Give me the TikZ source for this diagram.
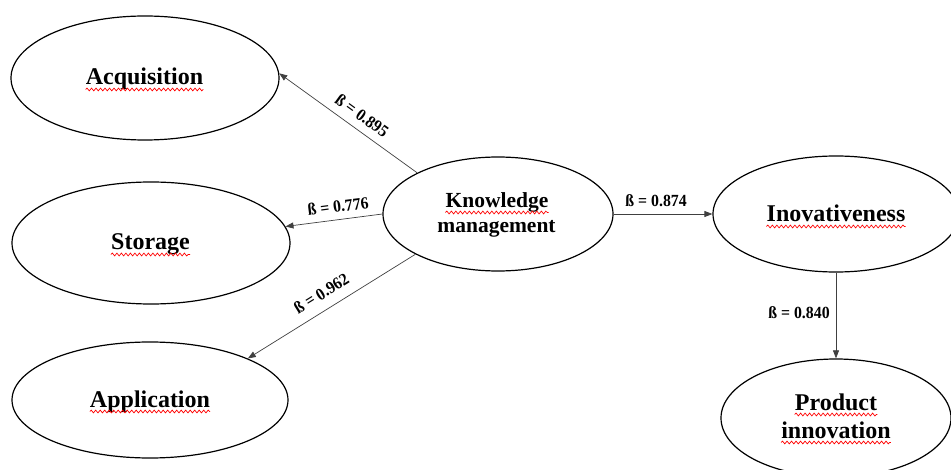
\documentclass[tikz,border=0pt]{standalone}
\usepackage{fontspec}
\setmainfont{Liberation Serif}
\newfontfamily\betafont[FakeStretch=0.93]{Liberation Serif}
\usetikzlibrary{shapes.geometric,arrows.meta,calc,decorations.pathmorphing}
\begin{document}
\begin{tikzpicture}[x=1pt,y=-1pt,
  oval/.style={draw, ellipse, line width=1.2pt, inner sep=0},
  word/.style={inner sep=0, font=\fontsize{24}{28}\selectfont\bfseries, anchor=base},
  kmword/.style={word, font=\fontsize{21.5}{25}\selectfont\bfseries},
  beta/.style={inner sep=0, font=\betafont\fontsize{17}{20}\selectfont\bfseries},
  link/.style={draw=black!75, line width=0.7pt, -{Triangle[length=8pt,width=6pt]}},
  wave/.style={draw=red, line width=0.7pt, decorate, decoration={snake, amplitude=1.4pt, segment length=4.5pt}}]
\useasboundingbox (0,0) rectangle (951,470);
\clip (0,0) rectangle (951,470);
% ellipses
\node[oval, minimum width=268pt, minimum height=124pt] (acq) at (145,78) {};
\node[oval, minimum width=278pt, minimum height=122pt] (sto) at (151,243) {};
\node[oval, minimum width=276pt, minimum height=116pt] (app) at (150,400) {};
\node[oval, minimum width=230pt, minimum height=114pt] (km) at (498,214) {};
\node[oval, minimum width=246pt, minimum height=116pt] (inov) at (836,214) {};
\node[oval, minimum width=230pt, minimum height=118pt] (prod) at (836,418) {};
% texts
\node[word] (tacq) at (144.5,85) {Acquisition};
\node[word] (tsto) at (150.5,250) {Storage};
\node[word] (tapp) at (150,407) {Application};
\node[kmword] (tkn) at (497,208) {Knowledge};
\node[kmword] (tman) at (496.5,233) {management};
\node[word] (tinov) at (836,222) {Inovativeness};
\node[word] (tprod) at (836,410) {Product};
\node[word] (tinn) at (836,438) {innovation};
% spell-check underlines
\foreach \t in {tacq,tsto,tapp,tkn,tinov,tprod,tinn}
  \draw[wave] ($(\t.base west)+(0,4.5)$) -- ($(\t.base east)+(0,4.5)$);
% connectors
\draw[link] (km.153) -- (acq.2) node[beta, pos=0.46, sloped, above=7.8pt] (b1) {ß = 0.895};
\draw[link] (km.west) -- (sto.7) node[beta, pos=0.44, sloped, above=6.9pt] (b2) {ß = 0.776};
\draw[link] (km.206) -- (app.23) node[beta, pos=0.51, sloped, above=9.9pt] (b3) {ß = 0.962};
\draw[link] (km.east) -- (inov.west) node[beta, pos=0.43, above=7pt] (b4) {ß = 0.874};
\draw[link] (inov.south) -- (prod.north) node[beta, pos=0.47, left=6pt] (b5) {ß = 0.840};
\end{tikzpicture}
\end{document}
